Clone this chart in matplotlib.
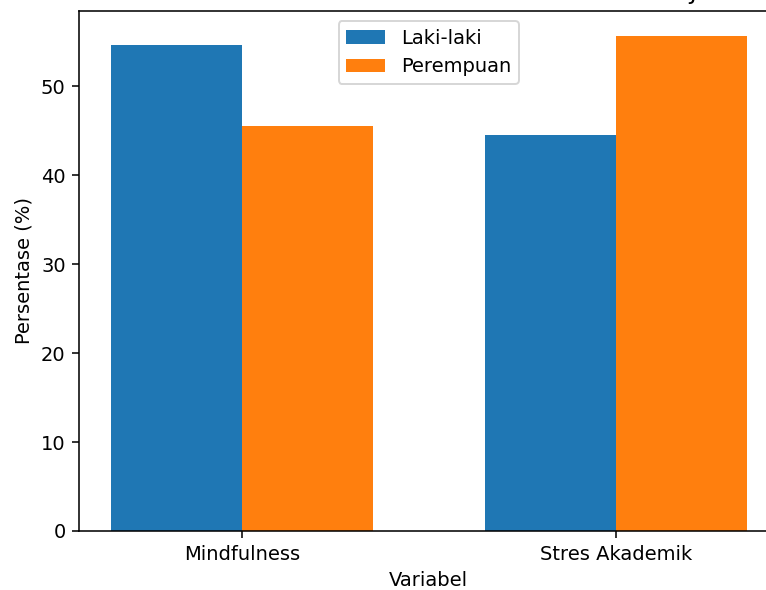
import numpy as np
import matplotlib

matplotlib.use("Agg")
import matplotlib.pyplot as plt

# Persentase per variabel dan jenis kelamin
variabel = ["Mindfulness", "Stres Akademik"]
laki = [54.7, 44.5]
perempuan = [45.5, 55.7]

DPI = 140.5
W, H = 766, 590

fig = plt.figure(figsize=(W / DPI, H / DPI), dpi=DPI)
# original screenshot is cropped: axes runs past the right edge, title above the top
ax = fig.add_axes([79.3 / W, (H - 531) / H, 699 / W, 520 / H])

x = np.arange(len(variabel))
w = 0.35
ax.bar(x - w / 2, laki, w, label="Laki-laki")
ax.bar(x + w / 2, perempuan, w, label="Perempuan")

ax.set_xticks(x)
ax.set_xticklabels(variabel)
ax.set_xlabel("Variabel")
ax.set_ylabel("Persentase (%)")
ax.set_title("Persentase Mindfulness dan Stres Akademik Berdasarkan Jenis Kelamin")
ax.legend(loc="upper center")

fig.savefig("out.png", dpi=DPI)
